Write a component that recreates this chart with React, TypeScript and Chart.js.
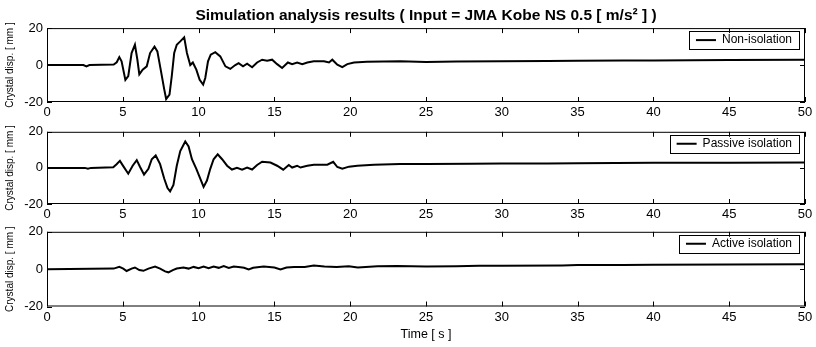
import React, { useEffect, useRef } from "react";
import { Chart, registerables } from "chart.js";

Chart.register(...registerables);

// ---------- text ----------
const TITLE = "Simulation analysis results ( Input = JMA Kobe NS 0.5 [ m/s\u00B2 ] )";
const Y_LABEL = "Crystal disp. [ mm ]";
const X_LABEL = "Time [ s ]";
const SERIES_NAMES = ["Non-isolation", "Passive isolation", "Active isolation"];

// ---------- axes ----------
const X_MIN = 0;
const X_MAX = 50;
const X_STEP = 5;
const Y_MIN = -20;
const Y_MAX = 20;
const Y_STEP = 20;

// ---------- data (time [s], displacement [mm]) ----------
const nonIsoTime = [0, 2.4, 2.6, 2.8, 4.4, 4.6, 4.77, 4.92, 5.17, 5.36, 5.58, 5.8, 5.96, 6.09, 6.31, 6.58, 6.8, 7.09, 7.28, 7.5, 7.73, 7.86, 8.08, 8.23, 8.39, 8.56, 8.79, 9.05, 9.23, 9.45, 9.62, 9.85, 10.07, 10.3, 10.44, 10.62, 10.8, 11.1, 11.43, 11.77, 12.09, 12.42, 12.64, 12.93, 13.2, 13.53, 13.86, 14.19, 14.52, 14.85, 15.18, 15.51, 15.89, 16.17, 16.5, 16.84, 17.17, 17.6, 18.27, 18.6, 18.82, 19.15, 19.48, 19.81, 20.25, 21.1, 23.3, 25, 27, 30, 33, 35, 38, 40, 45, 50];
const nonIsoDisp = [0, 0, -0.7, 0, 0.3, 1.5, 4.3, 2, -8, -6, 6.5, 11, 3, -5, -2.5, -0.7, 6.5, 10, 7.4, -2.5, -13, -18.4, -16, -6, 6.5, 11, 12.8, 15, 6.5, 0, 1.4, -2.5, -8, -10.6, -7, 2, 5.6, 7, 4.7, -0.7, -2.1, 0, 1, -0.7, 0.7, -1.2, 1.4, 2.9, 2.3, 2.9, 0.5, -1.6, 1.4, 0.5, 1.4, 0.5, 1.4, 2, 2, 1.4, 2.9, 0.2, -1.1, 0.5, 1.4, 1.8, 2, 1.6, 1.9, 2, 2.2, 2.3, 2.4, 2.5, 2.7, 2.9];

const passiveTime = [0, 2.5, 2.7, 2.9, 4.37, 4.59, 4.81, 5.03, 5.36, 5.65, 5.92, 6.14, 6.4, 6.69, 6.91, 7.17, 7.46, 7.73, 7.95, 8.12, 8.34, 8.56, 8.79, 9.12, 9.34, 9.56, 9.85, 10.11, 10.33, 10.55, 10.77, 10.99, 11.26, 11.55, 11.88, 12.2, 12.53, 12.87, 13.2, 13.53, 13.86, 14.19, 14.74, 15.18, 15.58, 15.95, 16.17, 16.5, 16.72, 17.17, 17.6, 18.49, 18.88, 19.15, 19.48, 19.92, 20.47, 21.57, 23.3, 25, 28, 30, 33, 35, 40, 45, 50];
const passiveDisp = [0, 0, -0.4, 0, 0.3, 2, 3.9, 1, -3.2, 1.2, 4.3, 0.5, -3.7, -0.5, 4.8, 6.9, 2.1, -5.9, -11.2, -13, -9.4, 1.2, 9.3, 14.6, 11.9, 4.8, -0.5, -5.9, -10.5, -7, -0.5, 4.8, 7.5, 4.8, 1.2, -0.9, 0, -1, 0.2, -0.9, 1.6, 3.4, 3, 1.2, -1, 1.6, 0.2, 1.2, 0.2, 1.2, 1.8, 1.8, 3.4, 0.5, -0.5, 0.7, 1.2, 1.8, 2.1, 2.1, 2.3, 2.4, 2.5, 2.6, 2.8, 2.9, 3.0];

const activeTime = [0, 4.4, 4.77, 5.03, 5.25, 5.58, 5.8, 6.09, 6.36, 6.69, 7.13, 7.46, 7.79, 8.01, 8.3, 8.56, 9.0, 9.34, 9.67, 10.0, 10.33, 10.66, 10.99, 11.33, 11.66, 11.99, 12.32, 12.76, 13.0, 13.3, 13.6, 14.3, 15.0, 15.4, 15.8, 16.3, 17.0, 17.6, 18.3, 19.1, 19.9, 20.5, 21.8, 23.1, 25, 27, 28.5, 30, 34, 35, 38, 40, 45, 50];
const activeDisp = [0, 0.3, 1.2, 0.3, -1, 0.3, 0.9, -0.5, -0.9, 0.3, 1.4, 0.3, -1.2, -1.7, -0.5, 0.3, 0.9, 0.3, 1.2, 0.5, 1.4, 0.5, 1.4, 0.7, 1.6, 0.7, 1.4, 1, 0.7, -0.2, 0.7, 1.4, 0.9, -0.2, 0.9, 1.2, 1.2, 1.9, 1.4, 1.1, 1.6, 0.9, 1.6, 1.7, 1.4, 1.5, 1.8, 1.8, 2.0, 2.2, 2.2, 2.3, 2.5, 2.6];

const SERIES_TIMES = [nonIsoTime, passiveTime, activeTime];
const SERIES_VALUES = [nonIsoDisp, passiveDisp, activeDisp];

const FONT = "'Liberation Sans', Arial, Helvetica, sans-serif";

const LEG_PX = 7; // legend box inner horizontal margin
const LEG_PY = 3; // legend box inner vertical margin
const LEG_RIGHT = 6; // gap between legend box and plot right edge
const LEG_TOP = 3; // gap between plot top and legend box

// frame, inward ticks, legend box (MATLAB look)
const framePlugin = {
  id: "matlabFrame",
  afterUpdate(chart: any) {
    const lg = chart.legend;
    if (!lg || !lg.legendHitBoxes || !lg.legendHitBoxes.length) return;
    const a = chart.chartArea;
    const h = lg.legendHitBoxes[0];
    const dx = a.right - LEG_RIGHT - LEG_PX - (h.left + h.width);
    const dy = a.top + LEG_TOP + LEG_PY - h.top;
    lg.left += dx;
    lg.right += dx;
    lg.top += dy;
    lg.bottom += dy;
    lg.legendHitBoxes.forEach((b: any) => {
      b.left += dx;
      b.top += dy;
    });
  },
  afterDatasetsDraw(chart: any) {
    const { ctx, chartArea: a, scales } = chart;
    ctx.save();
    ctx.strokeStyle = "#000";
    ctx.lineWidth = 1;
    ctx.strokeRect(a.left + 0.5, a.top + 0.5, a.right - a.left - 1, a.bottom - a.top - 1);
    const L = 5;
    ctx.beginPath();
    scales.x.ticks.forEach((t: any) => {
      const px = Math.round(scales.x.getPixelForValue(t.value)) + 0.5;
      ctx.moveTo(px, a.top);
      ctx.lineTo(px, a.top + L);
      ctx.moveTo(px, a.bottom);
      ctx.lineTo(px, a.bottom - L);
    });
    scales.y.ticks.forEach((t: any) => {
      const py = Math.round(scales.y.getPixelForValue(t.value)) + 0.5;
      ctx.moveTo(a.left, py);
      ctx.lineTo(a.left + L, py);
      ctx.moveTo(a.right, py);
      ctx.lineTo(a.right - L, py);
    });
    ctx.stroke();
    const lg = chart.legend;
    if (lg && lg.legendHitBoxes && lg.legendHitBoxes.length) {
      const h = lg.legendHitBoxes[0];
      ctx.strokeRect(
        Math.round(h.left - LEG_PX) + 0.5,
        Math.round(h.top - LEG_PY) + 0.5,
        Math.round(h.width + 2 * LEG_PX),
        Math.round(h.height + 2 * LEG_PY)
      );
    }
    ctx.restore();
  },
};

type PanelSpec = {
  top: number;
  height: number;
  padTop: number;
  xHeight: number;
  withTitle: boolean;
  withXLabel: boolean;
};

const PANELS: PanelSpec[] = [
  { top: 0, height: 120, padTop: 0, xHeight: 18, withTitle: true, withXLabel: false },
  { top: 120, height: 100, padTop: 9, xHeight: 16, withTitle: false, withXLabel: false },
  { top: 220, height: 127, padTop: 10, xHeight: 40.5, withTitle: false, withXLabel: true },
];

function makeConfig(i: number, p: PanelSpec): any {
  const data = SERIES_TIMES[i].map((t, k) => ({ x: t, y: SERIES_VALUES[i][k] }));
  return {
    type: "line",
    data: {
      datasets: [
        {
          label: SERIES_NAMES[i],
          data,
          borderColor: "#000",
          backgroundColor: "#000",
          borderWidth: 2,
          pointRadius: 0,
          tension: 0,
        },
      ],
    },
    options: {
      animation: false,
      responsive: false,
      devicePixelRatio: 1,
      layout: { padding: { left: 0, right: 11, top: p.padTop, bottom: 0 } },
      plugins: {
        tooltip: { enabled: false },
        title: {
          display: p.withTitle,
          text: TITLE,
          fullSize: false,
          color: "#000",
          font: { family: FONT, size: 15.5, weight: "bold" },
          padding: { top: 6.5, bottom: 3 },
        },
        legend: {
          position: "chartArea",
          align: "start",
          labels: {
            usePointStyle: true,
            pointStyle: "line",
            pointStyleWidth: 20,
            color: "#000",
            padding: 8,
            font: { family: FONT, size: 12 },
          },
        },
      },
      scales: {
        x: {
          type: "linear",
          min: X_MIN,
          max: X_MAX,
          ticks: {
            stepSize: X_STEP,
            padding: 3,
            maxRotation: 0,
            autoSkip: false,
            color: "#000",
            font: { family: FONT, size: 13 },
          },
          grid: { display: false, drawTicks: false },
          border: { display: false },
          title: {
            display: p.withXLabel,
            text: X_LABEL,
            color: "#000",
            font: { family: FONT, size: 12.5 },
            padding: { top: 0, bottom: 5 },
          },
          afterFit(s: any) {
            s.height = p.xHeight;
          },
        },
        y: {
          type: "linear",
          min: Y_MIN,
          max: Y_MAX,
          ticks: {
            stepSize: Y_STEP,
            padding: 4,
            color: "#000",
            font: { family: FONT, size: 13 },
          },
          grid: { display: false, drawTicks: false },
          border: { display: false },
          title: {
            display: true,
            text: Y_LABEL,
            color: "#000",
            font: { family: FONT, size: 10 },
            padding: { top: 4, bottom: 0 },
          },
          afterFit(s: any) {
            s.width = 47;
          },
        },
      },
    },
    plugins: [framePlugin],
  };
}

export default function App() {
  const r0 = useRef<HTMLCanvasElement>(null);
  const r1 = useRef<HTMLCanvasElement>(null);
  const r2 = useRef<HTMLCanvasElement>(null);
  const refs = [r0, r1, r2];

  useEffect(() => {
    const charts = refs.map((r, i) => new Chart(r.current as HTMLCanvasElement, makeConfig(i, PANELS[i])));
    return () => charts.forEach((c) => c.destroy());
  }, []);

  return (
    <div style={{ position: "absolute", left: 0, top: 0, width: 816, height: 347, background: "#fff" }}>
      {PANELS.map((p, i) => (
        <canvas
          key={i}
          ref={refs[i]}
          width={816}
          height={p.height}
          style={{ position: "absolute", left: 0, top: p.top, width: 816, height: p.height }}
        />
      ))}
    </div>
  );
}
